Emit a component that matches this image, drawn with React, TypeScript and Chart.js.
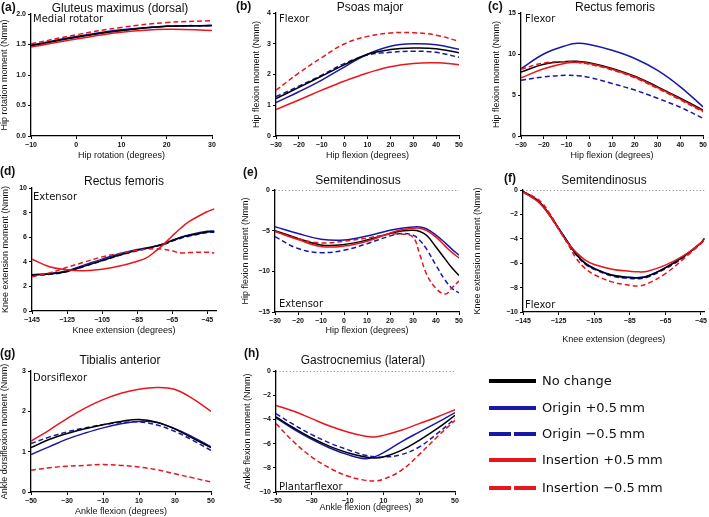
import React, { useEffect, useRef } from 'react';
import { Chart, registerables } from 'chart.js';
Chart.register(...registerables);

const PAGE_W = 709;
const PAGE_H = 517;
const BLACK = '#000000';
const BLUE = '#1818a8';
const RED = '#e8161c';

// ---------- (a) Gluteus maximus (dorsal) ----------
const A_X = [-10, 0, 10, 20, 30];
const A_NO = [1.48, 1.62, 1.73, 1.8, 1.81];
const A_OP = [1.49, 1.63, 1.74, 1.8, 1.81];
const A_OM = [1.48, 1.62, 1.73, 1.8, 1.81];
const A_IP = [1.46, 1.59, 1.7, 1.75, 1.73];
const A_IM = [1.51, 1.66, 1.78, 1.86, 1.89];
const A_XT = [-10, 0, 10, 20, 30];
const A_YT = [0, 0.5, 1, 1.5, 2];

// ---------- (b) Psoas major ----------
const B_X = [-30, -20, -10, 0, 10, 20, 30, 40, 50];
const B_NO = [1.22, 1.58, 1.95, 2.32, 2.66, 2.81, 2.86, 2.84, 2.71];
const B_OP = [1.09, 1.44, 1.82, 2.25, 2.66, 2.92, 3.0, 2.97, 2.82];
const B_OM = [1.28, 1.62, 1.98, 2.36, 2.63, 2.72, 2.76, 2.72, 2.56];
const B_IP = [0.86, 1.17, 1.49, 1.79, 2.05, 2.25, 2.36, 2.38, 2.32];
const B_IM = [1.49, 2.05, 2.55, 3.0, 3.24, 3.35, 3.36, 3.28, 3.08];
const B_XT = [-30, -20, -10, 0, 10, 20, 30, 40, 50];
const B_YT = [0, 1, 2, 3, 4];

// ---------- (c) Rectus femoris (hip) ----------
const C_X = [-30, -20, -10, -5, 0, 10, 20, 30, 40, 50];
const C_NO = [7.8, 8.75, 9.1, 9.1, 8.95, 8.25, 7.3, 6.0, 4.6, 3.15];
const C_OP = [8.2, 10.0, 11.05, 11.3, 11.15, 10.45, 9.45, 8.0, 6.0, 3.55];
const C_OM = [6.8, 7.2, 7.4, 7.35, 7.15, 6.4, 5.6, 4.6, 3.5, 2.15];
const C_IP = [7.1, 8.2, 8.9, 9.0, 8.85, 8.15, 7.2, 5.9, 4.5, 3.05];
const C_IM = [8.15, 8.9, 9.05, 8.95, 8.75, 8.05, 7.1, 5.8, 4.4, 2.95];
const C_XT = [-30, -20, -10, 0, 10, 20, 30, 40, 50];
const C_YT = [0, 5, 10, 15];

// ---------- (d) Rectus femoris (knee) ----------
const D_X = [-145, -135, -125, -115, -105, -95, -85, -80, -75, -70, -65, -60, -55, -45, -41];
const D_NO = [2.92, 3.0, 3.22, 3.65, 4.1, 4.55, 4.93, 5.08, 5.25, 5.45, 5.72, 5.97, 6.15, 6.42, 6.45];
const D_OP = [2.95, 3.05, 3.28, 3.75, 4.22, 4.65, 5.0, 5.12, 5.27, 5.45, 5.75, 6.0, 6.2, 6.48, 6.5];
const D_OM = [2.9, 2.98, 3.2, 3.63, 4.08, 4.52, 4.9, 5.05, 5.22, 5.4, 5.68, 5.92, 6.1, 6.38, 6.4];
const D_IP = [4.22, 3.6, 3.35, 3.28, 3.4, 3.65, 4.05, 4.3, 4.8, 5.4, 6.1, 6.75, 7.3, 8.08, 8.3];
const D_IM = [2.78, 3.1, 3.55, 3.98, 4.4, 4.68, 4.93, 5.02, 5.06, 5.02, 4.88, 4.72, 4.75, 4.78, 4.72];
const D_XT = [-145, -125, -105, -85, -65, -45];
const D_YT = [0, 2, 4, 6, 8, 10];

// ---------- (e) Semitendinosus (hip) ----------
const E_X = [-30, -20, -10, 0, 10, 20, 25, 30, 33, 36, 40, 44, 47, 50];
const E_NO = [-5.0, -5.95, -6.75, -6.7, -6.15, -5.35, -5.05, -4.95, -5.1, -5.6, -7.0, -8.5, -9.6, -10.5];
const E_OP = [-4.5, -5.35, -6.05, -6.15, -5.65, -4.95, -4.7, -4.55, -4.55, -4.8, -5.55, -6.5, -7.3, -8.0];
const E_OM = [-5.75, -7.2, -7.7, -7.4, -6.6, -5.65, -5.35, -5.55, -6.2, -7.3, -9.25, -11.1, -12.1, -12.65];
const E_IP = [-5.1, -6.1, -6.95, -6.9, -6.3, -5.3, -4.9, -4.7, -4.7, -5.0, -5.8, -6.9, -7.7, -8.35];
const E_IM = [-5.1, -6.0, -6.5, -6.3, -5.9, -5.45, -5.4, -5.8, -8.0, -10.4, -12.1, -12.8, -12.0, -11.2];
const E_XT = [-30, -20, -10, 0, 10, 20, 30, 40, 50];
const E_YT = [-15, -10, -5, 0];

// ---------- (f) Semitendinosus (knee) ----------
const F_X = [-145, -140, -135, -130, -125, -120, -115, -110, -105, -95, -85, -80, -75, -65, -55, -45, -43];
const F_NO = [-0.14, -0.55, -1.1, -2.05, -3.15, -4.25, -5.29, -6.03, -6.44, -6.99, -7.18, -7.2, -7.07, -6.38, -5.48, -4.33, -3.97];
const F_OP = [-0.12, -0.52, -1.08, -2.02, -3.12, -4.22, -5.25, -6.0, -6.42, -6.97, -7.16, -7.18, -7.05, -6.36, -5.46, -4.32, -3.96];
const F_OM = [-0.16, -0.58, -1.14, -2.1, -3.2, -4.3, -5.34, -6.08, -6.5, -7.05, -7.25, -7.27, -7.14, -6.45, -5.54, -4.38, -4.0];
const F_IP = [-0.19, -0.6, -1.18, -2.1, -3.2, -4.3, -5.12, -5.75, -6.11, -6.49, -6.66, -6.71, -6.66, -6.16, -5.4, -4.33, -4.03];
const F_IM = [-0.19, -0.47, -0.96, -1.92, -3.15, -4.38, -5.62, -6.44, -6.93, -7.53, -7.81, -7.86, -7.67, -6.85, -5.67, -4.38, -4.11];
const F_XT = [-145, -125, -105, -85, -65, -45];
const F_YT = [-10, -8, -6, -4, -2, 0];

// ---------- (g) Tibialis anterior ----------
const G_X = [-50, -40, -30, -20, -10, 0, 10, 20, 30, 40, 50];
const G_NO = [1.1, 1.3, 1.45, 1.57, 1.67, 1.75, 1.8, 1.73, 1.56, 1.33, 1.1];
const G_OP = [0.93, 1.12, 1.31, 1.46, 1.59, 1.69, 1.75, 1.72, 1.57, 1.36, 1.12];
const G_OM = [1.2, 1.36, 1.49, 1.59, 1.67, 1.72, 1.74, 1.66, 1.5, 1.28, 1.03];
const G_IP = [1.26, 1.53, 1.82, 2.08, 2.29, 2.45, 2.55, 2.59, 2.54, 2.31, 2.0];
const G_IM = [0.54, 0.6, 0.64, 0.66, 0.68, 0.66, 0.62, 0.55, 0.45, 0.35, 0.25];
const G_XT = [-50, -30, -10, 10, 30, 50];
const G_YT = [0, 1, 2, 3];

// ---------- (h) Gastrocnemius (lateral) ----------
const H_X = [-50, -40, -30, -20, -10, 0, 5, 10, 20, 30, 40, 50];
const H_NO = [-3.8, -4.71, -5.54, -6.23, -6.75, -7.11, -7.19, -7.11, -6.56, -5.73, -4.77, -3.66];
const H_OP = [-3.88, -4.82, -5.65, -6.36, -6.91, -7.25, -7.1, -6.75, -5.85, -5.05, -4.27, -3.44];
const H_OM = [-3.53, -4.44, -5.26, -5.95, -6.5, -6.97, -7.08, -7.11, -6.91, -6.28, -5.18, -3.94];
const H_IP = [-2.84, -3.33, -3.94, -4.55, -5.04, -5.4, -5.45, -5.32, -4.9, -4.35, -3.8, -3.2];
const H_IM = [-4.35, -5.87, -7.11, -8.02, -8.68, -9.04, -9.09, -8.95, -8.21, -6.91, -5.45, -4.08];
const H_XT = [-50, -30, -10, 10, 30, 50];
const H_YT = [-10, -8, -6, -4, -2, 0];

const LEGEND_LABELS = ['No change', 'Origin +0.5\u202Fmm', 'Origin \u22120.5\u202Fmm', 'Insertion +0.5\u202Fmm', 'Insertion \u22120.5\u202Fmm'];

interface Area { l: number; r: number; t: number; b: number; }
interface PanelDef {
  label: string; title: string; note: string; xTitle: string; yTitle: string;
  xs: number[]; no: number[]; op: number[]; om: number[]; ip: number[]; im: number[];
  xMin: number; xMax: number; xTicks: number[];
  yMin: number; yMax: number; yTicks: number[]; yDec: number; zeroLine: boolean;
  area: Area; yTitleX: number; xTitleY: number;
  labelPos: [number, number]; titlePos: [number, number]; notePos: [number, number];
}

const PANELS: PanelDef[] = [
  { label: '(a)', title: 'Gluteus maximus (dorsal)', note: 'Medial rotator', xTitle: 'Hip rotation (degrees)', yTitle: 'Hip rotation moment (Nmm)',
    xs: A_X, no: A_NO, op: A_OP, om: A_OM, ip: A_IP, im: A_IM, xMin: -10, xMax: 30, xTicks: A_XT, yMin: 0, yMax: 2, yTicks: A_YT, yDec: 1, zeroLine: false,
    area: { l: 31, r: 212, t: 14, b: 136 }, yTitleX: 5, xTitleY: 156, labelPos: [1, 7], titlePos: [120, 8], notePos: [33, 18] },
  { label: '(b)', title: 'Psoas major', note: 'Flexor', xTitle: 'Hip flexion (degrees)', yTitle: 'Hip flexion moment (Nmm)',
    xs: B_X, no: B_NO, op: B_OP, om: B_OM, ip: B_IP, im: B_IM, xMin: -30, xMax: 50, xTicks: B_XT, yMin: 0, yMax: 4, yTicks: B_YT, yDec: 0, zeroLine: false,
    area: { l: 276, r: 459, t: 13, b: 136 }, yTitleX: 257, xTitleY: 156, labelPos: [236, 6], titlePos: [370, 7], notePos: [279, 18] },
  { label: '(c)', title: 'Rectus femoris', note: 'Flexor', xTitle: 'Hip flexion (degrees)', yTitle: 'Hip flexion moment (Nmm)',
    xs: C_X, no: C_NO, op: C_OP, om: C_OM, ip: C_IP, im: C_IM, xMin: -30, xMax: 50, xTicks: C_XT, yMin: 0, yMax: 15, yTicks: C_YT, yDec: 0, zeroLine: false,
    area: { l: 521, r: 705, t: 13, b: 136 }, yTitleX: 497, xTitleY: 156, labelPos: [488, 6], titlePos: [615, 7], notePos: [525, 18] },
  { label: '(d)', title: 'Rectus femoris', note: 'Extensor', xTitle: 'Knee extension (degrees)', yTitle: 'Knee extension moment (Nmm)',
    xs: D_X, no: D_NO, op: D_OP, om: D_OM, ip: D_IP, im: D_IM, xMin: -145, xMax: -40, xTicks: D_XT, yMin: 0, yMax: 10, yTicks: D_YT, yDec: 0, zeroLine: false,
    area: { l: 32, r: 216, t: 188, b: 311 }, yTitleX: 5.5, xTitleY: 331, labelPos: [0, 171], titlePos: [124, 181], notePos: [33, 196] },
  { label: '(e)', title: 'Semitendinosus', note: 'Extensor', xTitle: 'Hip flexion (degrees)', yTitle: 'Hip flexion moment (Nmm)',
    xs: E_X, no: E_NO, op: E_OP, om: E_OM, ip: E_IP, im: E_IM, xMin: -30, xMax: 50, xTicks: E_XT, yMin: -15, yMax: 0, yTicks: E_YT, yDec: 0, zeroLine: true,
    area: { l: 275, r: 459, t: 190, b: 312 }, yTitleX: 246, xTitleY: 331, labelPos: [243, 172], titlePos: [358, 180], notePos: [279, 303] },
  { label: '(f)', title: 'Semitendinosus', note: 'Flexor', xTitle: 'Knee extension (degrees)', yTitle: 'Knee extension moment (Nmm)',
    xs: F_X, no: F_NO, op: F_OP, om: F_OM, ip: F_IP, im: F_IM, xMin: -145, xMax: -43, xTicks: F_XT, yMin: -10, yMax: 0, yTicks: F_YT, yDec: 0, zeroLine: true,
    area: { l: 523, r: 705, t: 190, b: 312 }, yTitleX: 478, xTitleY: 340, labelPos: [504, 178], titlePos: [604, 180], notePos: [525, 304] },
  { label: '(g)', title: 'Tibialis anterior', note: 'Dorsiflexor', xTitle: 'Ankle flexion (degrees)', yTitle: 'Ankle dorsiflexion moment (Nmm)',
    xs: G_X, no: G_NO, op: G_OP, om: G_OM, ip: G_IP, im: G_IM, xMin: -50, xMax: 50, xTicks: G_XT, yMin: 0, yMax: 3, yTicks: G_YT, yDec: 0, zeroLine: false,
    area: { l: 31, r: 211, t: 371, b: 492 }, yTitleX: 5, xTitleY: 512, labelPos: [0, 353], titlePos: [120, 360], notePos: [33, 377] },
  { label: '(h)', title: 'Gastrocnemius (lateral)', note: 'Plantarflexor', xTitle: 'Ankle flexion (degrees)', yTitle: 'Ankle flexion moment (Nmm)',
    xs: H_X, no: H_NO, op: H_OP, om: H_OM, ip: H_IP, im: H_IM, xMin: -50, xMax: 50, xTicks: H_XT, yMin: -10, yMax: 0, yTicks: H_YT, yDec: 0, zeroLine: true,
    area: { l: 276, r: 455, t: 371, b: 492 }, yTitleX: 248, xTitleY: 508, labelPos: [244, 353], titlePos: [363, 360], notePos: [279, 486] },
];

const SANS = "'Liberation Sans', Arial, Helvetica, sans-serif";
const VERD = "'DejaVu Sans', Verdana, sans-serif";
const fmt = (v: number, dec: number) => {
  const s = Math.abs(v).toFixed(dec);
  return v < 0 ? '\u2212' + s : s;
};

function PanelChart({ p }: { p: PanelDef }) {
  const ref = useRef<HTMLCanvasElement>(null);
  useEffect(() => {
    if (!ref.current) return;
    const mk = (label: string, ys: number[], color: string, dashed: boolean) => ({
      label,
      data: p.xs.map((x, i) => ({ x, y: ys[i] })),
      borderColor: color,
      backgroundColor: color,
      borderWidth: 1.5,
      borderDash: dashed ? [5, 3] : [],
      pointRadius: 0,
      tension: 0.4,
      fill: false,
    });
    const datasets: any[] = [
      mk(LEGEND_LABELS[4], p.im, RED, true),
      mk(LEGEND_LABELS[3], p.ip, RED, false),
      mk(LEGEND_LABELS[0], p.no, BLACK, false),
      mk(LEGEND_LABELS[1], p.op, BLUE, false),
      mk(LEGEND_LABELS[2], p.om, BLUE, true),
    ];
    if (p.zeroLine) {
      datasets.push({
        label: 'zero',
        data: [{ x: p.xMin, y: 0 }, { x: p.xMax, y: 0 }],
        borderColor: '#222',
        borderWidth: 1,
        borderDash: [1.2, 2.2],
        pointRadius: 0,
        tension: 0,
      });
    }
    const tickFont = { family: SANS, size: 7, weight: 'bold' as const };
    const titleFont = { family: SANS, size: 9, lineHeight: 1 };
    const chart = new Chart(ref.current, {
      type: 'line',
      data: { datasets },
      options: {
        responsive: false,
        animation: false,
        devicePixelRatio: 1,
        events: [],
        layout: {
          padding: {
            left: p.yTitleX - 4.5,
            top: p.area.t,
            right: PAGE_W - p.area.r,
            bottom: PAGE_H - (p.xTitleY + 4.5),
          },
        },
        plugins: { legend: { display: false }, tooltip: { enabled: false }, title: { display: false } },
        scales: {
          x: {
            type: 'linear',
            min: p.xMin,
            max: p.xMax,
            afterBuildTicks: (s: any) => { s.ticks = p.xTicks.map((v) => ({ value: v })); },
            afterFit: (s: any) => { s.height = p.xTitleY + 4.5 - p.area.b; },
            grid: { display: true, drawOnChartArea: false, drawTicks: true, tickLength: 3, color: '#000', lineWidth: 1 },
            border: { display: true, color: '#000', width: 1.3 },
            ticks: { font: tickFont, color: '#111', padding: 2, maxRotation: 0, autoSkip: false, callback: (v: any) => fmt(Number(v), 0) },
            title: { display: true, text: p.xTitle, font: titleFont, color: '#111', padding: 0 },
          },
          y: {
            type: 'linear',
            min: p.yMin,
            max: p.yMax,
            afterBuildTicks: (s: any) => { s.ticks = p.yTicks.map((v) => ({ value: v })); },
            afterFit: (s: any) => { s.width = p.area.l - (p.yTitleX - 4.5); },
            grid: { display: true, drawOnChartArea: false, drawTicks: true, tickLength: 3, color: '#000', lineWidth: 1 },
            border: { display: true, color: '#000', width: 1.3 },
            ticks: { font: tickFont, color: '#111', padding: 2, autoSkip: false, callback: (v: any) => fmt(Number(v), p.yDec) },
            title: { display: true, text: p.yTitle, font: titleFont, color: '#111', padding: 0 },
          },
        },
      },
    });
    return () => chart.destroy();
  }, [p]);
  return (
    <canvas
      ref={ref}
      width={PAGE_W}
      height={PAGE_H}
      style={{ position: 'absolute', left: 0, top: 0, width: PAGE_W, height: PAGE_H }}
    />
  );
}

function Txt(props: { x: number; cy: number; text: string; size: number; family: string; bold?: boolean; center?: boolean; lh?: number }) {
  const lh = props.lh ?? Math.round(props.size * 1.25);
  return (
    <div
      style={{
        position: 'absolute',
        left: props.x,
        top: props.cy - lh / 2,
        lineHeight: lh + 'px',
        height: lh,
        fontSize: props.size,
        fontFamily: props.family,
        fontWeight: props.bold ? 700 : 400,
        whiteSpace: 'nowrap',
        color: '#111',
        transform: props.center ? 'translateX(-50%)' : undefined,
      }}
    >
      {props.text}
    </div>
  );
}

const LEGEND_ROWS_Y = [381, 408, 434, 460, 488];
const LEGEND_COLORS = [BLACK, BLUE, BLUE, RED, RED];
const LEGEND_DASHED = [false, false, true, false, true];

function LegendLine({ y, color, dashed }: { y: number; color: string; dashed: boolean }) {
  const base = { position: 'absolute' as const, top: y - 2, height: 4, background: color };
  if (!dashed) return <div style={{ ...base, left: 489, width: 47 }} />;
  return (
    <>
      <div style={{ ...base, left: 489, width: 22 }} />
      <div style={{ ...base, left: 514, width: 22 }} />
    </>
  );
}

export default function App() {
  return (
    <div style={{ position: 'absolute', left: 0, top: 0, width: PAGE_W, height: PAGE_H, background: '#fff', overflow: 'hidden' }}>
      {PANELS.map((p) => (
        <PanelChart key={p.label} p={p} />
      ))}
      {PANELS.map((p) => (
        <React.Fragment key={'t' + p.label}>
          <Txt x={p.labelPos[0]} cy={p.labelPos[1]} text={p.label} size={12} family={SANS} bold />
          <Txt x={p.titlePos[0]} cy={p.titlePos[1]} text={p.title} size={12} family={SANS} center />
          <Txt x={p.notePos[0]} cy={p.notePos[1]} text={p.note} size={10} family={VERD} />
        </React.Fragment>
      ))}
      {LEGEND_LABELS.map((t, i) => (
        <React.Fragment key={'l' + i}>
          <LegendLine y={LEGEND_ROWS_Y[i]} color={LEGEND_COLORS[i]} dashed={LEGEND_DASHED[i]} />
          <Txt x={542} cy={LEGEND_ROWS_Y[i]} text={t} size={13} family={VERD} />
        </React.Fragment>
      ))}
    </div>
  );
}
